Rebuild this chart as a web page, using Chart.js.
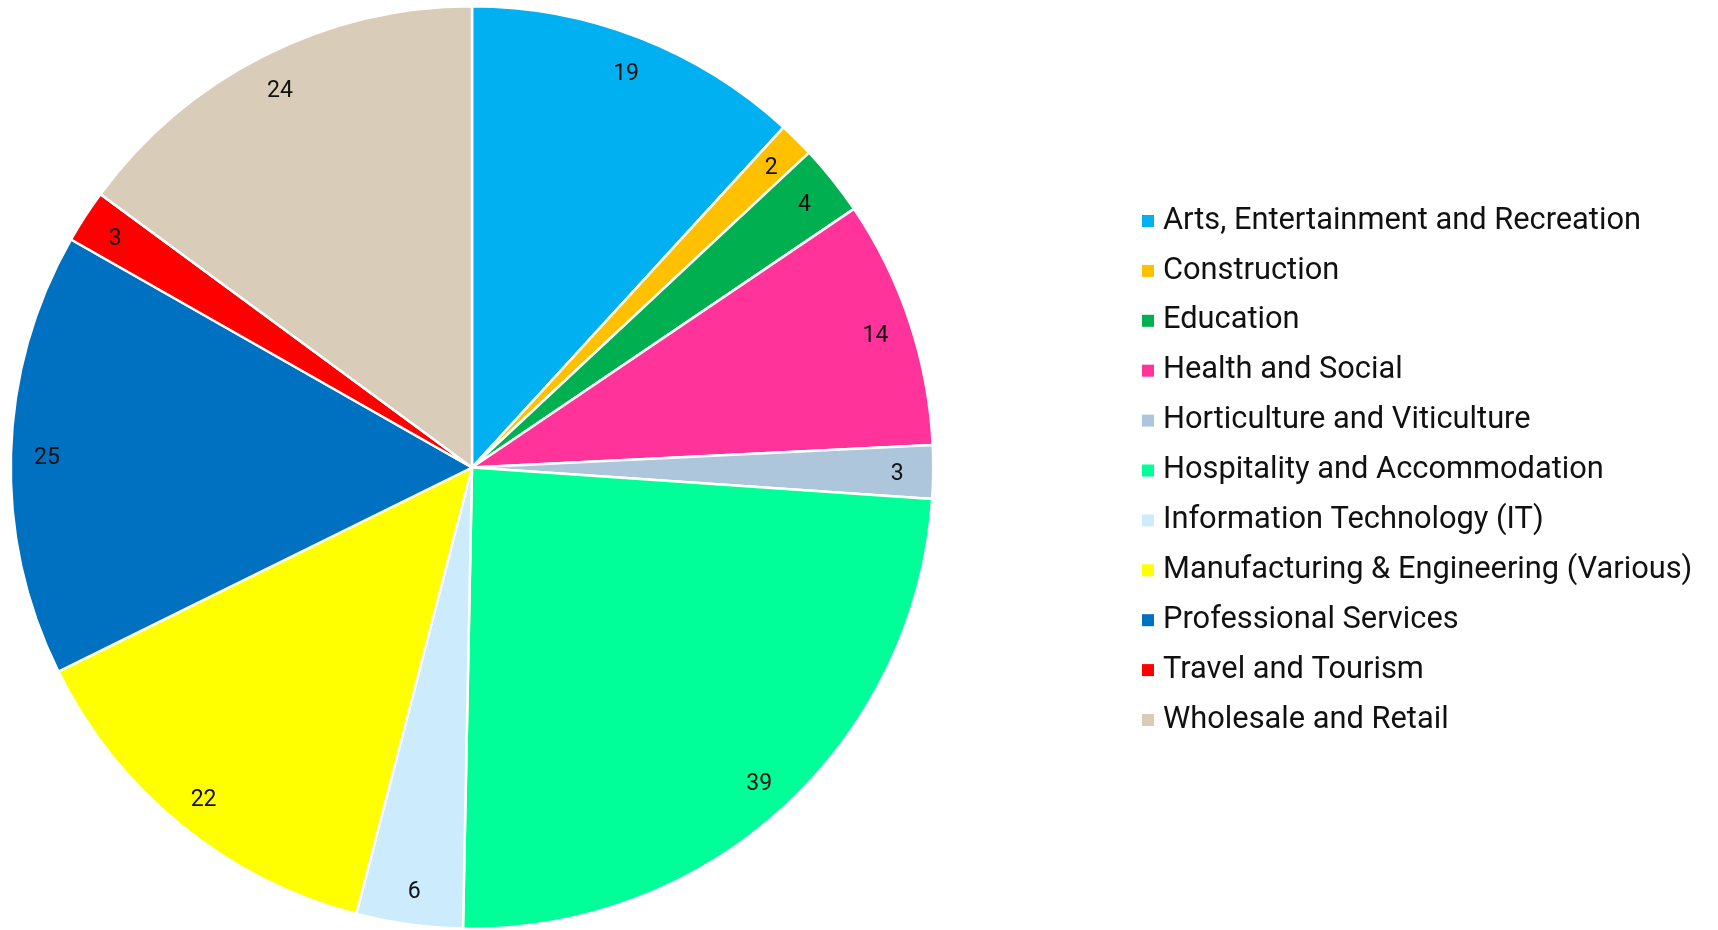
<!DOCTYPE html>
<html>
<head>
<meta charset="utf-8">
<script src="https://cdn.jsdelivr.net/npm/chart.js@4.4.1/dist/chart.umd.min.js"></script>
<style>
  html, body { margin: 0; padding: 0; background: #ffffff; }
  #wrap { width: 1718px; height: 930px; position: relative; }
</style>
</head>
<body>
<div id="wrap"><canvas id="chart" width="1718" height="930"></canvas></div>
<script>
// Sectors and counts
const categories = [
  'Arts, Entertainment and Recreation',
  'Construction',
  'Education',
  'Health and Social',
  'Horticulture and Viticulture',
  'Hospitality and Accommodation',
  'Information Technology (IT)',
  'Manufacturing & Engineering (Various)',
  'Professional Services',
  'Travel and Tourism',
  'Wholesale and Retail'
];
const counts = [19, 2, 4, 14, 3, 39, 6, 22, 25, 3, 24];
const sliceColors = [
  '#00B0F0', '#FFC000', '#00B050', '#FF3399', '#ADC6DC', '#00FF99',
  '#CCEBFD', '#FFFF00', '#0070C0', '#FF0000', '#D9CDB9'
];

// Value labels drawn near the outer edge of each slice
const sliceValueLabels = {
  id: 'sliceValueLabels',
  afterDatasetsDraw(chart) {
    const ctx = chart.ctx;
    const meta = chart.getDatasetMeta(0);
    const values = chart.data.datasets[0].data;
    ctx.save();
    ctx.font = '23px Roboto';
    ctx.fillStyle = '#111111';
    ctx.textAlign = 'center';
    ctx.textBaseline = 'middle';
    meta.data.forEach((arc, i) => {
      const p = arc.getProps(['x', 'y', 'startAngle', 'endAngle', 'outerRadius'], true);
      const mid = (p.startAngle + p.endAngle) / 2;
      const r = p.outerRadius * 0.922;
      ctx.fillText(String(values[i]), p.x + Math.cos(mid) * r, p.y + Math.sin(mid) * r + 3);
    });
    ctx.restore();
  }
};

// Legend list at the right of the pie
const sideLegend = {
  id: 'sideLegend',
  afterDraw(chart) {
    const ctx = chart.ctx;
    const labels = chart.data.labels;
    const colors = chart.data.datasets[0].backgroundColor;
    const x0 = 1142, y0 = 221, step = 49.9, box = 12;
    ctx.save();
    ctx.font = '30.8px Roboto';
    ctx.textBaseline = 'middle';
    ctx.textAlign = 'left';
    labels.forEach((lab, i) => {
      const y = y0 + i * step;
      ctx.fillStyle = colors[i];
      ctx.fillRect(x0, y - box / 2, box, box);
      ctx.fillStyle = '#111111';
      ctx.fillText(lab, x0 + 21, y);
    });
    ctx.restore();
  }
};

new Chart(document.getElementById('chart'), {
  type: 'pie',
  data: {
    labels: categories,
    datasets: [{
      data: counts,
      backgroundColor: sliceColors,
      borderColor: '#ffffff',
      borderWidth: 2.5
    }]
  },
  options: {
    responsive: false,
    animation: false,
    layout: { padding: { left: 9, right: 783, top: 5, bottom: 0 } },
    plugins: {
      legend: { display: false },
      tooltip: { enabled: false }
    }
  },
  plugins: [sliceValueLabels, sideLegend]
});
</script>
</body>
</html>
